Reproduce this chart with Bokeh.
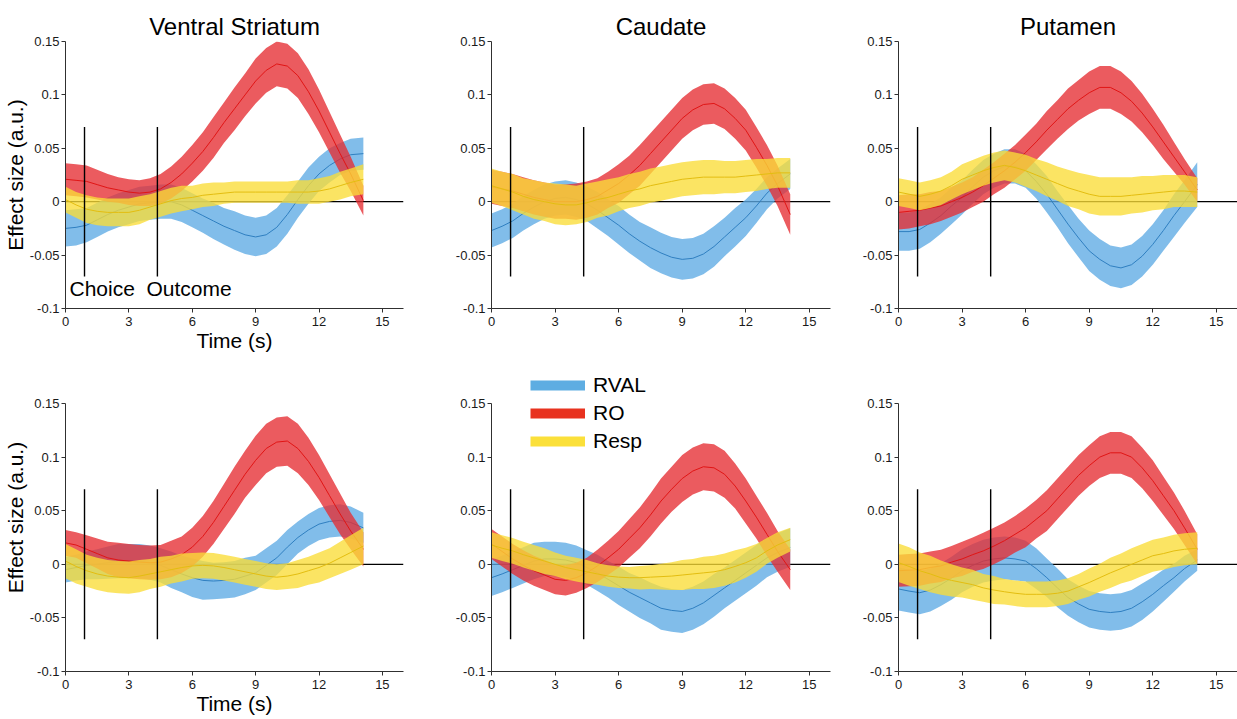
import numpy as np
from bokeh.plotting import figure
from bokeh.layouts import row, column
from bokeh.models import Span, Legend, LegendItem, CustomJSTickFormatter
from bokeh.core.properties import value
from bokeh.embed import file_html
from bokeh.resources import INLINE

# ---------------------------------------------------------------- data
TIME = [0, 0.5, 1, 1.5, 2, 2.5, 3, 3.5, 4, 4.5, 5, 5.5, 6, 6.5, 7, 7.5,
        8, 8.5, 9, 9.5, 10, 10.5, 11, 11.5, 12, 12.5, 13, 13.5, 14.1]
X_TICKS = [0, 3, 6, 9, 12, 15]
Y_TICKS = [-0.1, -0.05, 0, 0.05, 0.1, 0.15]
REGIONS = ["Ventral Striatum", "Caudate", "Putamen"]
SERIES = ["RVAL", "RO", "Resp"]
EVENT_TIMES = [0.9, 4.35]
EVENT_NAMES = ["Choice", "Outcome"]

# ---- first row: mean effect and half-width of the shaded band
vs_a_rval = [-0.025, -0.024, -0.022, -0.017, -0.012, -0.008, -0.005, -0.002, -0.001, 0.000, 0.000, -0.003,
             -0.008, -0.013, -0.018, -0.023, -0.027, -0.031, -0.033, -0.031, -0.024, -0.012, 0.002, 0.015,
             0.026, 0.034, 0.040, 0.044, 0.045]
vs_a_rval_err = [0.017, 0.017, 0.016, 0.016, 0.016, 0.016, 0.016, 0.016, 0.016, 0.016, 0.016, 0.016,
                 0.016, 0.016, 0.017, 0.017, 0.018, 0.018, 0.018, 0.018, 0.018, 0.018, 0.017, 0.017,
                 0.016, 0.016, 0.015, 0.015, 0.015]
vs_a_ro = [0.021, 0.020, 0.019, 0.016, 0.013, 0.011, 0.009, 0.008, 0.009, 0.012, 0.018, 0.026,
           0.036, 0.047, 0.060, 0.074, 0.087, 0.100, 0.113, 0.123, 0.129, 0.127, 0.118, 0.103,
           0.085, 0.065, 0.045, 0.026, 0.001]
vs_a_ro_err = [0.015, 0.015, 0.015, 0.014, 0.013, 0.012, 0.012, 0.012, 0.013, 0.014, 0.015, 0.016,
               0.017, 0.018, 0.019, 0.019, 0.020, 0.020, 0.021, 0.021, 0.021, 0.021, 0.021, 0.021,
               0.020, 0.019, 0.018, 0.016, 0.014]
vs_a_resp = [0.002, -0.003, -0.007, -0.009, -0.010, -0.010, -0.010, -0.008, -0.005, -0.002, 0.001, 0.003,
             0.004, 0.006, 0.007, 0.008, 0.009, 0.009, 0.009, 0.009, 0.009, 0.009, 0.009, 0.009,
             0.010, 0.012, 0.015, 0.018, 0.021]
vs_a_resp_err = [0.012, 0.012, 0.013, 0.013, 0.013, 0.013, 0.013, 0.013, 0.012, 0.012, 0.012, 0.012,
                 0.011, 0.011, 0.011, 0.010, 0.010, 0.010, 0.010, 0.010, 0.010, 0.010, 0.011, 0.011,
                 0.012, 0.012, 0.013, 0.013, 0.014]

cd_a_rval = [-0.027, -0.023, -0.018, -0.011, -0.005, 0.000, 0.003, 0.004, 0.002, -0.002, -0.008, -0.015,
             -0.022, -0.030, -0.037, -0.043, -0.048, -0.052, -0.054, -0.053, -0.049, -0.042, -0.033, -0.024,
             -0.015, -0.004, 0.008, 0.017, 0.026]
cd_a_rval_err = [0.016, 0.016, 0.016, 0.016, 0.016, 0.016, 0.016, 0.016, 0.016, 0.016, 0.017, 0.017,
                 0.018, 0.018, 0.018, 0.019, 0.019, 0.019, 0.019, 0.019, 0.019, 0.019, 0.018, 0.018,
                 0.017, 0.016, 0.015, 0.014, 0.014]
cd_a_ro = [0.014, 0.012, 0.010, 0.007, 0.004, 0.002, 0.000, 0.000, 0.000, 0.002, 0.005, 0.011,
           0.017, 0.025, 0.034, 0.045, 0.056, 0.067, 0.078, 0.086, 0.091, 0.092, 0.087, 0.078,
           0.067, 0.051, 0.034, 0.015, -0.012]
cd_a_ro_err = [0.016, 0.016, 0.016, 0.016, 0.016, 0.016, 0.016, 0.016, 0.017, 0.017, 0.017, 0.017,
               0.018, 0.018, 0.019, 0.019, 0.019, 0.019, 0.019, 0.019, 0.019, 0.019, 0.019, 0.019,
               0.019, 0.019, 0.019, 0.019, 0.019]
cd_a_resp = [0.015, 0.012, 0.009, 0.005, 0.002, 0.000, -0.002, -0.003, -0.003, -0.001, 0.002, 0.004,
             0.007, 0.010, 0.012, 0.015, 0.017, 0.019, 0.021, 0.022, 0.023, 0.023, 0.023, 0.023,
             0.024, 0.025, 0.026, 0.027, 0.027]
cd_a_resp_err = [0.016, 0.016, 0.017, 0.017, 0.018, 0.018, 0.019, 0.019, 0.018, 0.018, 0.017, 0.017,
                 0.016, 0.016, 0.016, 0.016, 0.016, 0.016, 0.016, 0.016, 0.016, 0.016, 0.015, 0.015,
                 0.015, 0.015, 0.014, 0.014, 0.014]

pu_a_rval = [-0.028, -0.028, -0.026, -0.020, -0.013, -0.004, 0.004, 0.014, 0.023, 0.029, 0.033, 0.033,
             0.029, 0.019, 0.007, -0.007, -0.021, -0.034, -0.046, -0.054, -0.060, -0.062, -0.059, -0.051,
             -0.040, -0.027, -0.013, 0.000, 0.016]
pu_a_rval_err = [0.018, 0.018, 0.018, 0.018, 0.017, 0.017, 0.016, 0.016, 0.016, 0.016, 0.016, 0.016,
                 0.016, 0.016, 0.017, 0.017, 0.018, 0.018, 0.019, 0.019, 0.019, 0.019, 0.019, 0.019,
                 0.019, 0.019, 0.020, 0.020, 0.021]
pu_a_ro = [-0.010, -0.009, -0.008, -0.006, -0.004, 0.000, 0.004, 0.009, 0.015, 0.022, 0.029, 0.037,
           0.046, 0.056, 0.067, 0.077, 0.087, 0.095, 0.102, 0.107, 0.107, 0.102, 0.094, 0.083,
           0.070, 0.056, 0.042, 0.028, 0.011]
pu_a_ro_err = [0.016, 0.016, 0.015, 0.015, 0.014, 0.014, 0.014, 0.014, 0.015, 0.015, 0.016, 0.016,
               0.017, 0.017, 0.018, 0.018, 0.019, 0.019, 0.020, 0.020, 0.020, 0.020, 0.019, 0.018,
               0.017, 0.016, 0.014, 0.012, 0.011]
pu_a_resp = [0.009, 0.007, 0.005, 0.007, 0.010, 0.015, 0.021, 0.025, 0.029, 0.032, 0.034, 0.032,
             0.029, 0.025, 0.021, 0.017, 0.013, 0.010, 0.007, 0.005, 0.005, 0.005, 0.006, 0.007,
             0.008, 0.009, 0.010, 0.010, 0.009]
pu_a_resp_err = [0.013, 0.013, 0.013, 0.013, 0.013, 0.013, 0.014, 0.014, 0.014, 0.014, 0.014, 0.014,
                 0.015, 0.015, 0.016, 0.016, 0.017, 0.017, 0.018, 0.018, 0.018, 0.018, 0.017, 0.017,
                 0.016, 0.016, 0.015, 0.015, 0.014]

# ---- second row
vs_b_rval = [-0.005, -0.003, -0.001, 0.000, 0.0015, 0.003, 0.003, 0.003, 0.0015, -0.001, -0.005, -0.009,
             -0.0125, -0.015, -0.0156, -0.015, -0.014, -0.011, -0.008, -0.001, 0.006, 0.016, 0.025, 0.032,
             0.0375, 0.040, 0.041, 0.039, 0.034]
vs_b_rval_err = [0.012, 0.012, 0.013, 0.014, 0.015, 0.016, 0.016, 0.016, 0.016, 0.016, 0.017, 0.017,
                 0.018, 0.018, 0.017, 0.017, 0.017, 0.017, 0.016, 0.016, 0.016, 0.016, 0.015, 0.015,
                 0.015, 0.015, 0.015, 0.015, 0.014]
vs_b_ro = [0.020, 0.018, 0.014, 0.010, 0.006, 0.004, 0.003, 0.002, 0.0015, 0.002, 0.005, 0.009,
           0.016, 0.026, 0.039, 0.054, 0.069, 0.084, 0.097, 0.108, 0.114, 0.115, 0.108, 0.096,
           0.081, 0.064, 0.047, 0.031, 0.014]
vs_b_ro_err = [0.012, 0.012, 0.013, 0.014, 0.015, 0.016, 0.016, 0.016, 0.016, 0.016, 0.017, 0.017,
               0.018, 0.019, 0.020, 0.021, 0.022, 0.022, 0.023, 0.023, 0.023, 0.023, 0.023, 0.022,
               0.021, 0.020, 0.019, 0.017, 0.016]
vs_b_resp = [0.003, -0.002, -0.006, -0.009, -0.011, -0.012, -0.0125, -0.011, -0.009, -0.007, -0.005, -0.003,
             -0.0015, -0.001, -0.0015, -0.003, -0.005, -0.007, -0.009, -0.011, -0.012, -0.011, -0.009, -0.006,
             -0.003, 0.001, 0.006, 0.011, 0.017]
vs_b_resp_err = [0.016, 0.016, 0.015, 0.015, 0.015, 0.015, 0.015, 0.015, 0.014, 0.014, 0.013, 0.013,
                 0.012, 0.012, 0.012, 0.012, 0.012, 0.012, 0.012, 0.012, 0.012, 0.012, 0.013, 0.013,
                 0.014, 0.014, 0.015, 0.016, 0.017]

cd_b_rval = [-0.0125, -0.009, -0.005, -0.001, 0.003, 0.005, 0.005, 0.004, 0.0015, -0.003, -0.008, -0.014,
             -0.020, -0.026, -0.031, -0.036, -0.041, -0.043, -0.044, -0.041, -0.036, -0.029, -0.022, -0.015,
             -0.008, -0.001, 0.006, 0.011, 0.0156]
cd_b_rval_err = [0.017, 0.017, 0.017, 0.017, 0.017, 0.016, 0.016, 0.016, 0.016, 0.016, 0.017, 0.017,
                 0.018, 0.018, 0.019, 0.019, 0.020, 0.020, 0.020, 0.020, 0.020, 0.020, 0.019, 0.019,
                 0.019, 0.019, 0.018, 0.018, 0.018]
cd_b_ro = [0.019, 0.012, 0.005, -0.001, -0.006, -0.010, -0.014, -0.015, -0.0125, -0.008, -0.0015, 0.006,
           0.014, 0.024, 0.034, 0.046, 0.059, 0.070, 0.080, 0.087, 0.091, 0.090, 0.084, 0.073,
           0.059, 0.044, 0.028, 0.012, -0.005]
cd_b_ro_err = [0.014, 0.014, 0.014, 0.014, 0.014, 0.014, 0.014, 0.014, 0.014, 0.014, 0.015, 0.016,
               0.017, 0.018, 0.019, 0.020, 0.021, 0.021, 0.022, 0.022, 0.022, 0.022, 0.022, 0.021,
               0.021, 0.020, 0.020, 0.019, 0.019]
cd_b_resp = [0.018, 0.015, 0.0125, 0.009, 0.006, 0.003, 0.000, -0.003, -0.005, -0.007, -0.009, -0.011,
             -0.012, -0.0125, -0.0125, -0.012, -0.0115, -0.011, -0.010, -0.009, -0.008, -0.007, -0.005, -0.002,
             0.0015, 0.006, 0.0125, 0.018, 0.023]
cd_b_resp_err = [0.012, 0.012, 0.012, 0.012, 0.012, 0.012, 0.011, 0.011, 0.011, 0.011, 0.010, 0.010,
                 0.010, 0.010, 0.011, 0.011, 0.012, 0.013, 0.014, 0.014, 0.015, 0.015, 0.015, 0.015,
                 0.014, 0.013, 0.012, 0.012, 0.011]

pu_b_rval = [-0.023, -0.025, -0.0265, -0.024, -0.019, -0.013, -0.006, -0.001, 0.003, 0.005, 0.006, 0.005,
             0.003, -0.004, -0.0125, -0.022, -0.031, -0.037, -0.042, -0.044, -0.045, -0.044, -0.041, -0.035,
             -0.028, -0.020, -0.0125, -0.004, 0.004]
pu_b_rval_err = [0.020, 0.020, 0.020, 0.020, 0.020, 0.020, 0.020, 0.020, 0.020, 0.020, 0.020, 0.020,
                 0.019, 0.019, 0.018, 0.018, 0.017, 0.017, 0.017, 0.017, 0.017, 0.017, 0.017, 0.017,
                 0.016, 0.015, 0.013, 0.012, 0.010]
pu_b_ro = [-0.006, -0.0055, -0.005, -0.003, -0.0015, 0.002, 0.005, 0.009, 0.0125, 0.017, 0.022, 0.028,
           0.034, 0.042, 0.050, 0.061, 0.072, 0.083, 0.092, 0.100, 0.104, 0.104, 0.100, 0.090,
           0.078, 0.064, 0.050, 0.034, 0.014]
pu_b_ro_err = [0.015, 0.015, 0.015, 0.015, 0.015, 0.015, 0.016, 0.016, 0.017, 0.017, 0.017, 0.017,
               0.018, 0.018, 0.019, 0.019, 0.019, 0.019, 0.019, 0.0195, 0.0195, 0.0195, 0.0195, 0.019,
               0.019, 0.018, 0.017, 0.016, 0.014]
pu_b_resp = [0.0015, -0.002, -0.006, -0.009, -0.0125, -0.015, -0.017, -0.019, -0.022, -0.024, -0.0256, -0.027,
             -0.028, -0.028, -0.028, -0.027, -0.025, -0.021, -0.017, -0.0125, -0.008, -0.004, 0.000, 0.004,
             0.008, 0.010, 0.0125, 0.014, 0.015]
pu_b_resp_err = [0.018, 0.018, 0.017, 0.017, 0.016, 0.015, 0.014, 0.014, 0.013, 0.013, 0.012, 0.012,
                 0.012, 0.012, 0.012, 0.012, 0.012, 0.012, 0.013, 0.013, 0.014, 0.014, 0.015, 0.015,
                 0.015, 0.015, 0.015, 0.015, 0.015]

PANELS = [
    [(vs_a_rval, vs_a_rval_err), (vs_a_ro, vs_a_ro_err), (vs_a_resp, vs_a_resp_err)],
    [(cd_a_rval, cd_a_rval_err), (cd_a_ro, cd_a_ro_err), (cd_a_resp, cd_a_resp_err)],
    [(pu_a_rval, pu_a_rval_err), (pu_a_ro, pu_a_ro_err), (pu_a_resp, pu_a_resp_err)],
    [(vs_b_rval, vs_b_rval_err), (vs_b_ro, vs_b_ro_err), (vs_b_resp, vs_b_resp_err)],
    [(cd_b_rval, cd_b_rval_err), (cd_b_ro, cd_b_ro_err), (cd_b_resp, cd_b_resp_err)],
    [(pu_b_rval, pu_b_rval_err), (pu_b_ro, pu_b_ro_err), (pu_b_resp, pu_b_resp_err)],
]

# ---------------------------------------------------------------- style
FONT = "Liberation Sans"
BAND_COLORS = ["#5eaae4", "#e62d32", "#fadc37"]
LINE_COLORS = ["#2f7fc0", "#e01515", "#e3bd10"]
KEY_COLORS = ["#5eade2", "#e8321f", "#fbe03a"]
BAND_ALPHA = 0.78

Y_LO, Y_HI = -0.1, 0.15
# per-column borders (left, right, width) and per-row borders (top, bottom, height)
COLS = [(64, 10, 413), (78, 10, 427), (58, 0, 397)]
ROWS = [(41, 52, 360), (43, 48, 359)]
# the second row gets extra plot area above 0.15 so the key can sit there
HEADROOM = [0, 40]
KEY_PANEL = 4

tick_fmt = CustomJSTickFormatter(code="return String(Math.round(tick * 100) / 100);")


def make_panel(idx):
    r, c = divmod(idx, 3)
    left, right, w = COLS[c]
    top, bottom, h = ROWS[r]
    frame_h = h - top - bottom
    y_hi = Y_HI + (Y_HI - Y_LO) * HEADROOM[r] / frame_h
    top -= HEADROOM[r]
    p = figure(width=w, height=h, x_range=(0, 16), y_range=(Y_LO, y_hi),
               output_backend="svg", toolbar_location=None,
               min_border_left=left, min_border_right=right,
               min_border_top=top, min_border_bottom=bottom)
    p.outline_line_color = None
    p.xgrid.visible = False
    p.ygrid.visible = False
    p.background_fill_color = "white"
    p.border_fill_color = "white"

    for ax in (p.xaxis[0], p.yaxis[0]):
        ax.axis_line_color = "#303030"
        ax.major_tick_line_color = "#303030"
        ax.minor_tick_line_color = None
        ax.major_tick_in = 0
        ax.major_tick_out = 4
        ax.major_label_text_font = FONT
        ax.major_label_text_font_size = "13px"
        ax.major_label_text_color = "#1a1a1a"
        ax.axis_label_text_font = FONT
        ax.axis_label_text_font_size = "21px"
        ax.axis_label_text_font_style = "normal"
        ax.axis_label_text_color = "black"
    p.xaxis.ticker = X_TICKS
    p.yaxis.ticker = Y_TICKS
    p.yaxis.bounds = (Y_LO, Y_HI)
    p.yaxis.formatter = tick_fmt
    p.xaxis.major_label_standoff = 4
    p.yaxis.major_label_standoff = 2
    p.xaxis.axis_label_standoff = 0
    p.yaxis.axis_label_standoff = 0

    if c == 0:
        p.yaxis.axis_label = "Effect size (a.u.)"
        p.xaxis.axis_label = "Time (s)"
    if r == 0:
        p.title.text = REGIONS[c]
        p.title.align = "center"
        p.title.text_font = FONT
        p.title.text_font_size = "24px"
        p.title.text_font_style = "normal"
        p.title.text_color = "black"
        p.title.standoff = 4

    p.add_layout(Span(location=0, dimension="width", line_color="black",
                      line_width=1.3, level="underlay"))

    t = np.array(TIME, dtype=float)
    for k, (mean, err) in enumerate(PANELS[idx]):
        m = np.array(mean, dtype=float)
        e = np.array(err, dtype=float)
        p.varea(x=t, y1=m - e, y2=m + e, fill_color=BAND_COLORS[k],
                fill_alpha=BAND_ALPHA)
        p.line(t, m, line_color=LINE_COLORS[k], line_width=1)

    p.segment(x0=EVENT_TIMES, y0=[-0.07] * len(EVENT_TIMES),
              x1=EVENT_TIMES, y1=[0.07] * len(EVENT_TIMES),
              line_color="black", line_width=1.4)

    if idx == 0:
        p.text(x=EVENT_TIMES, y=[-0.081] * len(EVENT_TIMES), text=EVENT_NAMES,
               x_offset=[-15, -11], text_font=value(FONT),
               text_font_size="21px", text_color="black",
               text_baseline="alphabetic", text_align="left")

    if idx == KEY_PANEL:
        # key swatches: renderers with a single NaN point draw nothing in the plot
        keys = [p.line(x=[np.nan], y=[np.nan], line_color=KEY_COLORS[k], line_width=10)
                for k in range(len(SERIES))]
        legend = Legend(items=[LegendItem(label=SERIES[k], renderers=[keys[k]])
                               for k in range(len(SERIES))],
                        location=(39, 218), orientation="vertical",
                        glyph_width=55, glyph_height=24, label_height=24,
                        label_standoff=8, spacing=4, padding=0, margin=0,
                        border_line_color=None, background_fill_alpha=0,
                        label_text_font=FONT, label_text_font_size="21px",
                        label_text_color="black")
        p.add_layout(legend)
    return p


panels = [make_panel(i) for i in range(6)]
layout = column(row(*panels[:3]), row(*panels[3:]))

with open("out.html", "w") as f:
    f.write(file_html(layout, INLINE))
